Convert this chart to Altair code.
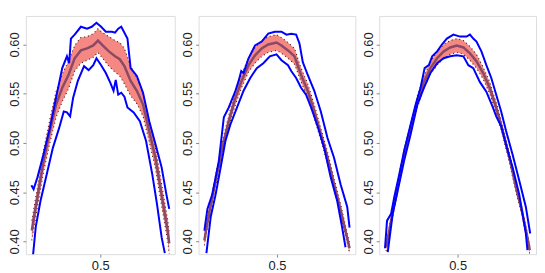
import altair as alt
import pandas as pd

# ---------------- Panel 1 ----------------
p1_cx = [0.003, 0.044, 0.089, 0.134, 0.179, 0.224, 0.269, 0.314, 0.359, 0.404, 0.449, 0.483,
         0.517, 0.562, 0.607, 0.641, 0.675, 0.720, 0.765, 0.810, 0.855, 0.900, 0.945, 0.990, 1.000]
p1_cy = [0.411, 0.445, 0.482, 0.512, 0.539, 0.556, 0.569, 0.586, 0.594, 0.596, 0.599, 0.604,
         0.599, 0.593, 0.588, 0.585, 0.578, 0.563, 0.553, 0.539, 0.512, 0.485, 0.447, 0.410, 0.398]
p1_hw = [0.010, 0.010, 0.011, 0.012, 0.013, 0.014, 0.014, 0.013, 0.013, 0.012, 0.012, 0.012,
         0.013, 0.015, 0.016, 0.017, 0.018, 0.015, 0.013, 0.012, 0.011, 0.011, 0.011, 0.011, 0.011]
p1_ux = [0.000, 0.016, 0.044, 0.089, 0.134, 0.179, 0.224, 0.258, 0.274, 0.287, 0.314, 0.359,
         0.404, 0.438, 0.472, 0.506, 0.540, 0.585, 0.607, 0.630, 0.652, 0.675, 0.697, 0.720,
         0.765, 0.810, 0.855, 0.900, 0.945, 0.979, 1.000]
p1_uy = [0.457, 0.453, 0.465, 0.489, 0.515, 0.546, 0.576, 0.588, 0.581, 0.606, 0.610, 0.618,
         0.616, 0.618, 0.622, 0.618, 0.613, 0.613, 0.612, 0.616, 0.618, 0.612, 0.606, 0.576,
         0.568, 0.551, 0.522, 0.499, 0.475, 0.448, 0.433]
p1_lx = [0.012, 0.032, 0.066, 0.111, 0.156, 0.201, 0.235, 0.258, 0.281, 0.303, 0.337, 0.382,
         0.415, 0.449, 0.472, 0.506, 0.540, 0.573, 0.596, 0.612, 0.630, 0.652, 0.675, 0.697,
         0.742, 0.787, 0.832, 0.877, 0.911, 0.945, 0.968]
p1_ly = [0.386, 0.415, 0.441, 0.468, 0.495, 0.515, 0.532, 0.531, 0.527, 0.546, 0.563, 0.578,
         0.574, 0.579, 0.586, 0.579, 0.571, 0.561, 0.553, 0.564, 0.549, 0.551, 0.547, 0.536,
         0.531, 0.522, 0.502, 0.468, 0.438, 0.404, 0.388]

# ---------------- Panel 2 ----------------
p2_cx = [0.000, 0.032, 0.078, 0.123, 0.168, 0.214, 0.259, 0.304, 0.349, 0.395, 0.440, 0.497,
         0.531, 0.576, 0.621, 0.666, 0.712, 0.757, 0.802, 0.848, 0.893, 0.938, 0.984, 1.000]
p2_cy = [0.401, 0.428, 0.462, 0.495, 0.522, 0.546, 0.564, 0.579, 0.589, 0.596, 0.600, 0.602,
         0.599, 0.594, 0.588, 0.569, 0.553, 0.532, 0.509, 0.485, 0.458, 0.432, 0.403, 0.393]
p2_hw = [0.005, 0.005, 0.006, 0.006, 0.006, 0.007, 0.007, 0.007, 0.008, 0.008, 0.008, 0.008,
         0.008, 0.008, 0.008, 0.007, 0.007, 0.007, 0.006, 0.006, 0.006, 0.006, 0.005, 0.005]
p2_ux = [0.000, 0.021, 0.055, 0.100, 0.134, 0.168, 0.214, 0.236, 0.254, 0.270, 0.304, 0.349,
         0.395, 0.440, 0.485, 0.531, 0.565, 0.598, 0.632, 0.655, 0.678, 0.712, 0.757, 0.802,
         0.848, 0.893, 0.938, 0.984, 1.000]
p2_uy = [0.411, 0.433, 0.448, 0.482, 0.526, 0.536, 0.553, 0.563, 0.573, 0.571, 0.586, 0.599,
         0.603, 0.611, 0.613, 0.613, 0.610, 0.611, 0.610, 0.601, 0.582, 0.569, 0.553, 0.532,
         0.505, 0.485, 0.458, 0.435, 0.414]
p2_lx = [0.014, 0.044, 0.078, 0.112, 0.145, 0.180, 0.225, 0.270, 0.316, 0.361, 0.406, 0.451,
         0.497, 0.531, 0.576, 0.598, 0.632, 0.666, 0.700, 0.735, 0.780, 0.825, 0.870, 0.915,
         0.949, 0.972]
p2_ly = [0.388, 0.425, 0.448, 0.475, 0.502, 0.519, 0.536, 0.553, 0.566, 0.576, 0.581, 0.588,
         0.590, 0.584, 0.579, 0.573, 0.566, 0.556, 0.549, 0.536, 0.517, 0.495, 0.465, 0.441,
         0.414, 0.394]

# ---------------- Panel 3 ----------------
p3_cx = [0.008, 0.042, 0.087, 0.132, 0.177, 0.223, 0.268, 0.313, 0.359, 0.404, 0.449, 0.494,
         0.540, 0.585, 0.630, 0.676, 0.721, 0.766, 0.811, 0.857, 0.902, 0.947, 0.981, 0.997]
p3_cy = [0.394, 0.421, 0.455, 0.489, 0.515, 0.542, 0.562, 0.576, 0.586, 0.593, 0.597, 0.599,
         0.597, 0.591, 0.583, 0.571, 0.556, 0.536, 0.512, 0.485, 0.455, 0.428, 0.404, 0.391]
p3_hw = [0.004, 0.004, 0.005, 0.005, 0.005, 0.006, 0.006, 0.006, 0.007, 0.007, 0.007, 0.007,
         0.007, 0.007, 0.007, 0.006, 0.006, 0.005, 0.005, 0.005, 0.005, 0.004, 0.004, 0.004]
p3_ux = [0.000, 0.014, 0.042, 0.064, 0.098, 0.132, 0.177, 0.211, 0.245, 0.273, 0.302, 0.325,
         0.359, 0.392, 0.426, 0.471, 0.517, 0.562, 0.585, 0.608, 0.630, 0.664, 0.698, 0.732,
         0.766, 0.800, 0.834, 0.879, 0.924, 0.970, 1.000]
p3_uy = [0.393, 0.421, 0.428, 0.445, 0.468, 0.492, 0.519, 0.539, 0.556, 0.576, 0.579, 0.588,
         0.593, 0.600, 0.606, 0.610, 0.608, 0.608, 0.610, 0.606, 0.603, 0.593, 0.579, 0.566,
         0.549, 0.532, 0.512, 0.488, 0.462, 0.435, 0.408]
p3_lx = [0.019, 0.053, 0.087, 0.132, 0.177, 0.223, 0.268, 0.313, 0.359, 0.404, 0.449, 0.494,
         0.540, 0.574, 0.608, 0.653, 0.698, 0.743, 0.766, 0.800, 0.834, 0.879, 0.924, 0.970,
         0.981]
p3_ly = [0.389, 0.428, 0.451, 0.482, 0.509, 0.539, 0.556, 0.571, 0.581, 0.586, 0.588, 0.589,
         0.588, 0.579, 0.576, 0.562, 0.552, 0.536, 0.527, 0.517, 0.498, 0.475, 0.448, 0.408,
         0.391]

y_ticks = [0.40, 0.45, 0.50, 0.55, 0.60]
x_ticks = [0.5]

X_DOMAIN = [-0.04, 1.04]
Y_DOMAIN = [0.387, 0.629]


def panel(cx, cy, hw, ux, uy, lx, ly, width):
    band = pd.DataFrame({
        "x": cx, "y": cy,
        "lo": [c - h for c, h in zip(cy, hw)],
        "hi": [c + h for c, h in zip(cy, hw)],
    })
    up = pd.DataFrame({"x": ux, "y": uy})
    low = pd.DataFrame({"x": lx, "y": ly})

    xs = alt.Scale(domain=X_DOMAIN, nice=False, zero=False)
    ys = alt.Scale(domain=Y_DOMAIN, nice=False, zero=False)
    xax = alt.Axis(values=x_ticks, format=".1f", title=None, grid=False, domain=False,
                   tickSize=3, tickColor="#888", labelPadding=2, labelFontSize=13,
                   labelColor="#222", labelFont="Liberation Sans")
    yax = alt.Axis(values=y_ticks, format=".2f", title=None, grid=False, domain=False,
                   tickSize=3, tickColor="#888", labelPadding=1, labelFontSize=13,
                   labelAngle=-90, labelColor="#222", labelFont="Liberation Sans")

    X = alt.X("x:Q", scale=xs, axis=xax)
    Y = alt.Y("y:Q", scale=ys, axis=yax)

    area = alt.Chart(band).mark_area(color="#f26a64", opacity=0.8, clip=True).encode(
        x=X, y=alt.Y("lo:Q", scale=ys, axis=yax), y2="hi:Q")
    dot_hi = alt.Chart(band).mark_line(color="#4a1010", strokeWidth=1.1, strokeDash=[1, 3],
                                       clip=True).encode(x=X, y=alt.Y("hi:Q", scale=ys, axis=yax))
    dot_lo = alt.Chart(band).mark_line(color="#4a1010", strokeWidth=1.1, strokeDash=[1, 3],
                                       clip=True).encode(x=X, y=alt.Y("lo:Q", scale=ys, axis=yax))
    center = alt.Chart(band).mark_line(color="#8a4a66", strokeWidth=2.5, clip=True).encode(x=X, y=Y)
    upper = alt.Chart(up).mark_line(color="#0000ff", strokeWidth=2, clip=True).encode(x=X, y=Y)
    lower = alt.Chart(low).mark_line(color="#0000ff", strokeWidth=2, clip=True).encode(x=X, y=Y)

    return alt.layer(area, dot_hi, dot_lo, center, upper, lower).properties(width=width, height=240)


chart = alt.hconcat(
    panel(p1_cx, p1_cy, p1_hw, p1_ux, p1_uy, p1_lx, p1_ly, 150),
    panel(p2_cx, p2_cy, p2_hw, p2_ux, p2_uy, p2_lx, p2_ly, 158),
    panel(p3_cx, p3_cy, p3_hw, p3_ux, p3_uy, p3_lx, p3_ly, 158),
    spacing=5,
).properties(
    padding={"left": 0, "top": 6, "right": 0, "bottom": 0}
).configure_view(
    stroke="#9a9a9a", strokeWidth=1
).configure(background="white")

chart.save("out.html", embed_options={"renderer": "svg", "actions": False})
